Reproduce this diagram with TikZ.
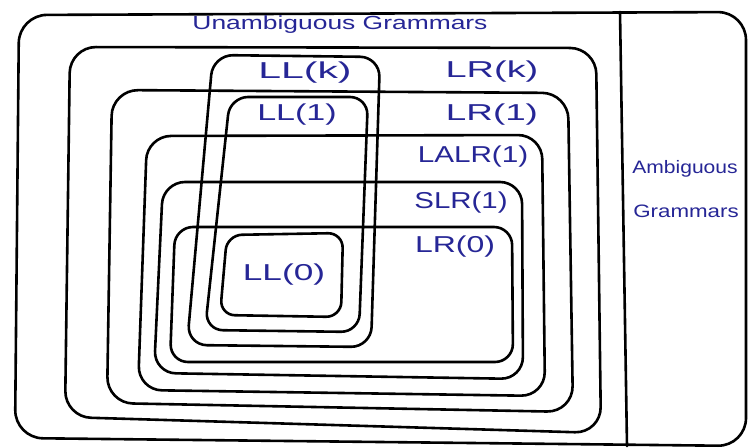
\documentclass[tikz,border=0pt]{standalone}
\usepackage{fontspec}
\setmainfont{Liberation Sans}
\definecolor{ink}{RGB}{38,38,150}
\begin{document}
\begin{tikzpicture}[x=1pt,y=-1pt,
  setline/.style={draw=black,line width=2.6pt,line join=round,line cap=round},
  lab/.style={text=ink,inner sep=0pt,font=\fontsize{23}{23}\selectfont},
  smalllab/.style={text=ink,inner sep=0pt,font=\fontsize{19}{19}\selectfont},
  amblab/.style={text=ink,inner sep=0pt,font=\fontsize{18}{18}\selectfont}]
\useasboundingbox (0,0) rectangle (749,447);
\fill[white] (0,0) rectangle (749,447);

% outer frame and divider
\draw[setline,rounded corners=28pt] (19,15) -- (746,12) -- (746,446) -- (15,438) -- cycle;
\coordinate (dtop) at (620,12);
\coordinate (dbot) at (627,446);
\draw[setline] (dtop) -- (dbot);

% LR family
\draw[setline,rounded corners=26pt] (70,47) -- (596,48) -- (601,433) -- (65,417) -- cycle;   % LR(k)
\draw[setline,rounded corners=26pt] (112,90) -- (568,93) -- (573,412) -- (107,403) -- cycle; % LR(1)
\draw[setline,rounded corners=24pt] (147,136) -- (542,135) -- (545,396) -- (138,390) -- cycle; % LALR(1)
\draw[setline,rounded corners=22pt] (163,182) -- (522,182) -- (523,379) -- (154,373) -- cycle; % SLR(1)
\draw[setline,rounded corners=18pt] (175,227) -- (512,227) -- (513,362) -- (170,362) -- cycle; % LR(0)

% LL family
\draw[setline,rounded corners=20pt] (213,55) -- (380,57) -- (371,347) -- (187,345) -- cycle; % LL(k)
\draw[setline,rounded corners=18pt] (230,97) -- (368,97) -- (359,332) -- (205,330) -- cycle; % LL(1)
\draw[setline,rounded corners=15pt] (227,235) -- (343,233) -- (341,317) -- (220,315) -- cycle; % LL(0)

% labels
\node[smalllab] (unamb) at (340,25) {\scalebox{1.39}[1]{Unambiguous Grammars}};
\node[amblab] (amb) at (685,169) {\scalebox{1.17}[1]{Ambiguous}};
\node[amblab] (gram) at (686,211) {\scalebox{1.24}[1]{Grammars}};

\node[lab] (llk) at (305,73) {\scalebox{1.78}[1]{LL(k)}};
\node[lab] (lrk) at (492,72) {\scalebox{1.65}[1]{LR(k)}};
\node[lab] (ll1) at (297,115) {\scalebox{1.48}[1]{LL(1)}};
\node[lab] (lr1) at (492,115) {\scalebox{1.6}[1]{LR(1)}};
\node[lab] (lalr) at (473,157) {\scalebox{1.29}[1]{LALR(1)}};
\node[lab] (slr) at (461,203) {\scalebox{1.28}[1]{SLR(1)}};
\node[lab] (lr0) at (455,247) {\scalebox{1.39}[1]{LR(0)}};
\node[lab] (ll0) at (284,275) {\scalebox{1.53}[1]{LL(0)}};
\end{tikzpicture}
\end{document}
